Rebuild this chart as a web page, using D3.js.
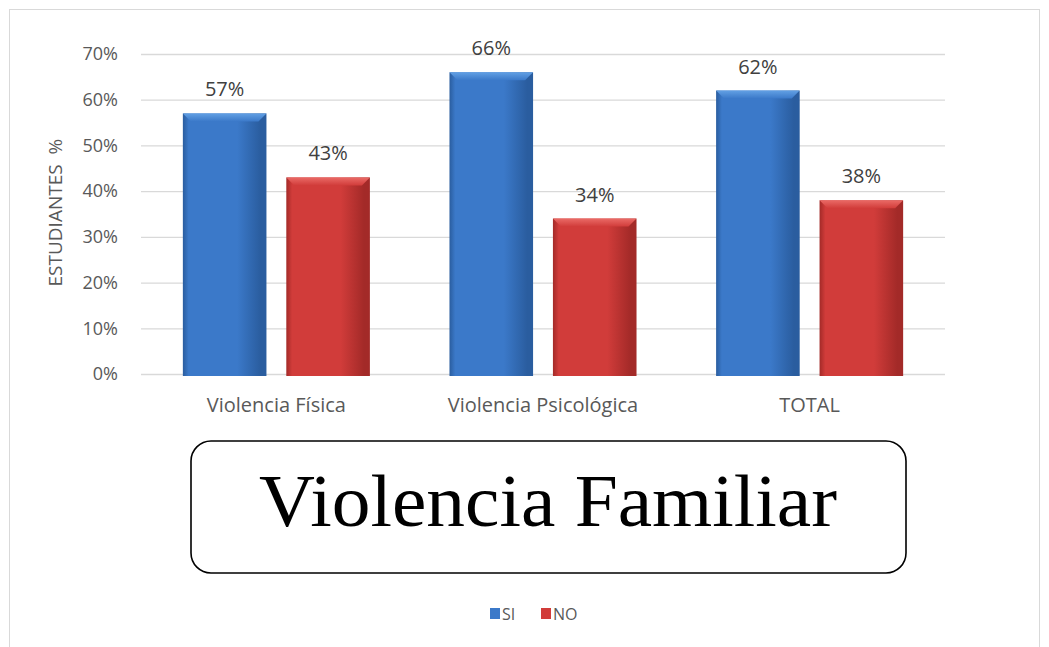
<!DOCTYPE html>
<head>
    <meta charset="utf-8">
    <title>Violencia Familiar</title>
    <style>
        body { margin: 0; background: #fff; }
        text { font-family: "Open Sans", "Noto Sans", "Liberation Sans", sans-serif; }
    </style>
</head>
<body>

<svg width="1049" height="647"></svg>

<script src="https://d3js.org/d3.v7.min.js"></script>

<script>
    // data
    var categories = ["Violencia Física", "Violencia Psicológica", "TOTAL"];
    var series = ["SI", "NO"];
    var siValues = [57, 66, 62];
    var noValues = [43, 34, 38];
    var yTicks = [0, 10, 20, 30, 40, 50, 60, 70];

    var svg = d3.select("svg"),
        width = +svg.attr("width"),
        height = +svg.attr("height");

    var margin = {left: 141, right: 104, top: 54, bottom: 273};

    // outer chart frame
    svg.append("rect")
        .attr("x", 9.5).attr("y", 9.5)
        .attr("width", 1030).attr("height", 650)
        .attr("fill", "#fff")
        .attr("stroke", "#d9d9d9");

    var x0 = d3.scaleBand()
        .domain(categories)
        .range([margin.left, width - margin.right])
        .paddingInner(0.2985)
        .paddingOuter(0.157);

    var x1 = d3.scaleBand()
        .domain(series)
        .range([0, x0.bandwidth()])
        .paddingInner(0.192);

    var y = d3.scaleLinear()
        .domain([0, 70])
        .range([height - margin.bottom, margin.top]);

    var color = {SI: "#3b79c9", NO: "#d13c3a"};
    var dark = {SI: "#2a5d9f", NO: "#a32a28"};
    var light = {SI: "#62a0e4", NO: "#ea6a66"};

    // gradients for the bevelled bars
    var defs = svg.append("defs");
    series.forEach(function(s) {
        var g = defs.append("linearGradient").attr("id", "grad" + s)
            .attr("x1", 0).attr("x2", 1).attr("y1", 0).attr("y2", 0);
        g.append("stop").attr("offset", "0%").attr("stop-color", dark[s]);
        g.append("stop").attr("offset", "7%").attr("stop-color", color[s]);
        g.append("stop").attr("offset", "65%").attr("stop-color", color[s]);
        g.append("stop").attr("offset", "93%").attr("stop-color", dark[s]);
        g.append("stop").attr("offset", "100%").attr("stop-color", dark[s]);
        var t = defs.append("linearGradient").attr("id", "top" + s)
            .attr("x1", 0).attr("x2", 0).attr("y1", 0).attr("y2", 1);
        t.append("stop").attr("offset", "0%").attr("stop-color", light[s]);
        t.append("stop").attr("offset", "100%").attr("stop-color", color[s]);
    });

    // y axis + gridlines
    var yAxis = svg.append("g")
        .attr("transform", "translate(" + margin.left + ",0)")
        .call(d3.axisLeft(y)
            .tickValues(yTicks)
            .tickSize(-(width - margin.left - margin.right))
            .tickPadding(23)
            .tickFormat(function(d) { return d + "%"; }));
    yAxis.select(".domain").remove();
    yAxis.selectAll(".tick line").attr("stroke", "#d9d9d9").attr("stroke-width", 1.3);
    yAxis.selectAll(".tick text")
        .attr("fill", "#595959")
        .style("font-size", "18px");

    // y axis title
    svg.append("text")
        .attr("transform", "translate(62," + y(35.3) + ") rotate(-90)")
        .attr("text-anchor", "middle")
        .attr("fill", "#595959")
        .style("font-size", "19px")
        .style("white-space", "pre")
        .text("ESTUDIANTES  %");

    // x axis labels
    var xAxis = svg.append("g")
        .attr("transform", "translate(0," + y(0) + ")")
        .call(d3.axisBottom(x0).tickSize(0).tickPadding(24));
    xAxis.select(".domain").remove();
    xAxis.selectAll(".tick text")
        .attr("fill", "#595959")
        .style("font-size", "20px");

    // bars
    var rows = categories.map(function(c, i) {
        return {cat: c, vals: [{s: "SI", v: siValues[i]}, {s: "NO", v: noValues[i]}]};
    });

    var groups = svg.append("g").selectAll("g")
        .data(rows)
        .enter().append("g")
        .attr("transform", function(d) { return "translate(" + x0(d.cat) + ",0)"; });

    var bars = groups.selectAll("g")
        .data(function(d) { return d.vals; })
        .enter().append("g");

    bars.append("rect")
        .attr("x", function(d) { return x1(d.s); })
        .attr("y", function(d) { return y(d.v); })
        .attr("width", x1.bandwidth())
        .attr("height", function(d) { return y(0) - y(d.v) + 2; })
        .attr("fill", function(d) { return "url(#grad" + d.s + ")"; });

    // top bevel
    bars.append("path")
        .attr("d", function(d) {
            var l = x1(d.s), r = l + x1.bandwidth(), t = y(d.v);
            return "M" + l + "," + t + "L" + r + "," + t +
                "L" + (r - 8) + "," + (t + 8) + "L" + (l + 8) + "," + (t + 8) + "Z";
        })
        .attr("fill", function(d) { return "url(#top" + d.s + ")"; });

    bars.append("text")
        .attr("x", function(d) { return x1(d.s) + x1.bandwidth() / 2; })
        .attr("y", function(d) { return y(d.v) - 17; })
        .attr("text-anchor", "middle")
        .attr("fill", "#404040")
        .style("font-size", "20px")
        .text(function(d) { return d.v + "%"; });

    // title box
    svg.append("rect")
        .attr("x", 191).attr("y", 441)
        .attr("width", 715).attr("height", 132)
        .attr("rx", 20).attr("ry", 20)
        .attr("fill", "#fff")
        .attr("stroke", "#000")
        .attr("stroke-width", 1.6);

    svg.append("text")
        .attr("x", 548).attr("y", 526)
        .attr("text-anchor", "middle")
        .attr("fill", "#000")
        .attr("textLength", 578)
        .attr("lengthAdjust", "spacingAndGlyphs")
        .style("font-family", "'Liberation Serif', 'Times New Roman', serif")
        .style("font-size", "73px")
        .text("Violencia Familiar");

    // legend
    var legend = svg.append("g").attr("transform", "translate(490,608)");
    var items = legend.selectAll("g")
        .data(series)
        .enter().append("g")
        .attr("transform", function(d, i) { return "translate(" + (i * 51) + ",0)"; });
    items.append("rect")
        .attr("width", 10).attr("height", 11)
        .attr("fill", function(d) { return color[d]; });
    items.append("text")
        .attr("x", 12).attr("y", 12)
        .attr("fill", "#595959")
        .style("font-size", "16px")
        .text(function(d) { return d; });
</script>

</body>
